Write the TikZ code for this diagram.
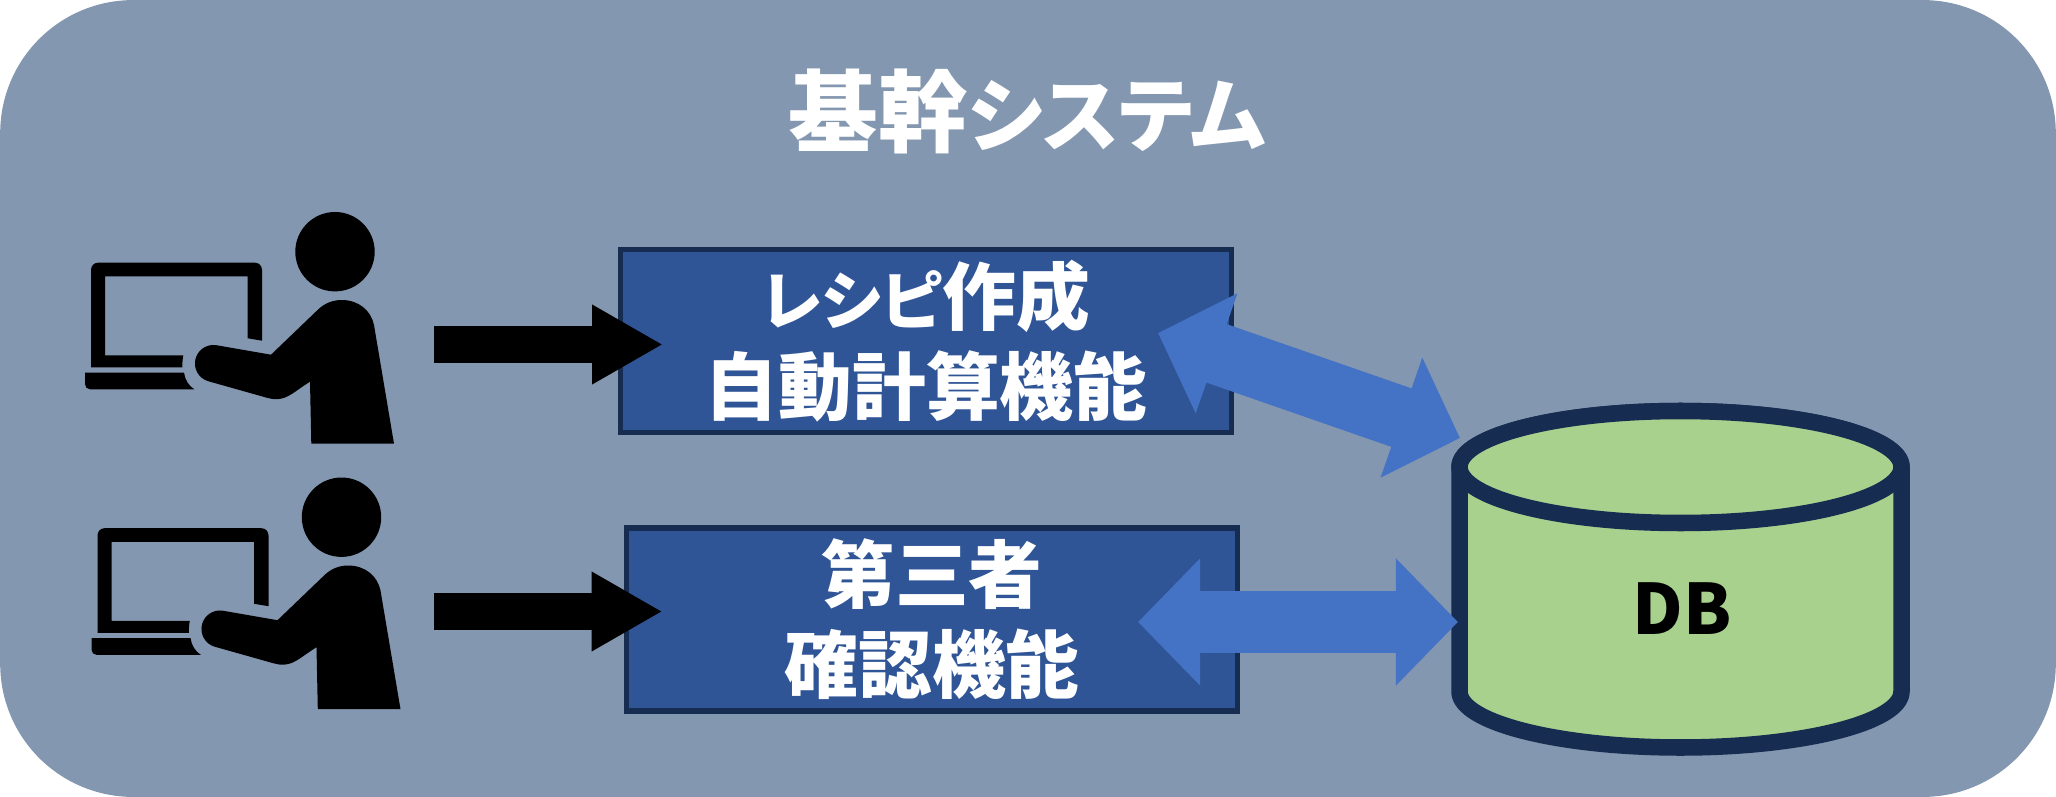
\documentclass[tikz,border=0pt]{standalone}
\usepackage{fontspec}
\usetikzlibrary{arrows.meta}
\newfontfamily\jpfont[RawFeature={+palt}]{Noto Sans CJK JP}
\definecolor{panelc}{HTML}{8497B0}
\definecolor{boxfill}{HTML}{2F5597}
\definecolor{darkline}{HTML}{172C51}
\definecolor{bluearrow}{HTML}{4472C4}
\definecolor{dbfill}{HTML}{A9D18E}
\newcommand{\kanasmall}[1]{{\fontsize{36.5}{51.2}\selectfont #1}}
\tikzset{
  x=0.02cm,y=-0.02cm,
  panelbox/.style={rectangle,fill=panelc,rounded corners=75.7pt,minimum width=41.12cm,minimum height=15.94cm,inner sep=0pt},
  titletext/.style={text=white,inner sep=0pt,font=\jpfont\bfseries\fontsize{51}{60}\selectfont},
  funcbox/.style={rectangle,draw=darkline,fill=boxfill,line width=2.9pt,minimum width=12.22cm,minimum height=3.66cm,inner sep=0pt,text=white,align=center,font=\jpfont\bfseries\fontsize{42}{51.2}\selectfont},
  dbtext/.style={text=black,inner sep=0pt,font=\jpfont\bfseries\fontsize{39.6}{44}\selectfont},
  dbline/.style={draw=darkline,fill=dbfill,line width=9.4pt,line join=round},
  inarrow/.style={draw=black,line width=21.34pt,-{Triangle[length=40.4pt,width=42.5pt]}},
  dbarrow/.style={draw=bluearrow,line width=35.2pt,{Triangle[length=35.3pt,width=70.2pt]}-{Triangle[length=35.3pt,width=70.2pt]}},
  pics/userpc/.style={code={
    % head
    \fill[black] (335,251.7) circle[radius=39.7];
    % laptop screen
    \fill[black] (182.3,367.3) -- (91,367.3) -- (91,270) .. controls (91,266) and (94,262.7) .. (98,262.7)
      -- (255,262.7) .. controls (259,262.7) and (262,266) .. (262,270)
      -- (262,340.7) -- (247.7,338.3) -- (247.7,276.3) -- (105,276.3) -- (105,355.3) -- (183.3,355.3)
      .. controls (182.6,359) and (182.3,363) .. (182.3,367.3) -- cycle;
    % laptop base
    \fill[black] (85,372.7) -- (184,372.7) .. controls (185,380) and (189,386) .. (194.3,389.3)
      -- (90,389.3) .. controls (87,389.3) and (85,387) .. (85,384) -- cycle;
    % body
    \fill[black] (394,443.7) -- (311.3,443.7) -- (310,381.7)
      .. controls (300,388) and (294,393) .. (290,395)
      .. controls (282,400) and (274,400) .. (266.7,397.7)
      -- (208.5,381.3)
      arc[start angle=105.5,end angle=278.3,radius=18.5]
      -- (271,354.7) -- (318.3,309.3)
      .. controls (325,303) and (333,300) .. (341.7,300)
      .. controls (358,300) and (371,310) .. (374,325)
      -- cycle;
  }}
}
\begin{document}
\begin{tikzpicture}
\useasboundingbox (0,0) rectangle (2056,797);
\node[panelbox] (panel) at (1028,398.5) {};
\node[titletext] (title) at (1027,111) {基幹{\fontsize{46}{60}\selectfont システム}};

\pic (userA) at (0,0) {userpc};
\pic (userB) at (6.5,265.5) {userpc};

\node[funcbox] (recipe) at (926,341) {\kanasmall{レシピ}作成\\自動計算機能};
\node[funcbox] (check) at (932,619.5) {第三者\\確認機能};

% database cylinder
\path[dbline] (1459.5,467) -- (1459.5,691.5) arc[start angle=180,end angle=0,x radius=221,y radius=56]
  -- (1901.5,467) arc[start angle=0,end angle=-180,x radius=221,y radius=56] -- cycle;
\path[dbline] (1680.5,467) ellipse[x radius=221,y radius=56];
\node[dbtext] (db) at (1682,609) {DB};

% connector ends
\coordinate (userAout) at (434,344.5);
\coordinate (recipeIn) at (663,344.5);
\coordinate (userBout) at (434,611.5);
\coordinate (checkIn) at (662.5,611.5);
\coordinate (recipeEnd) at (1158,333);
\coordinate (dbTop) at (1460,438);
\coordinate (checkEnd) at (1138,622);
\coordinate (dbSide) at (1458,622);

\draw[inarrow] (userAout) -- (recipeIn);
\draw[inarrow] (userBout) -- (checkIn);
\draw[dbarrow] (recipeEnd) -- (dbTop);
\draw[dbarrow] (checkEnd) -- (dbSide);
\end{tikzpicture}
\end{document}
